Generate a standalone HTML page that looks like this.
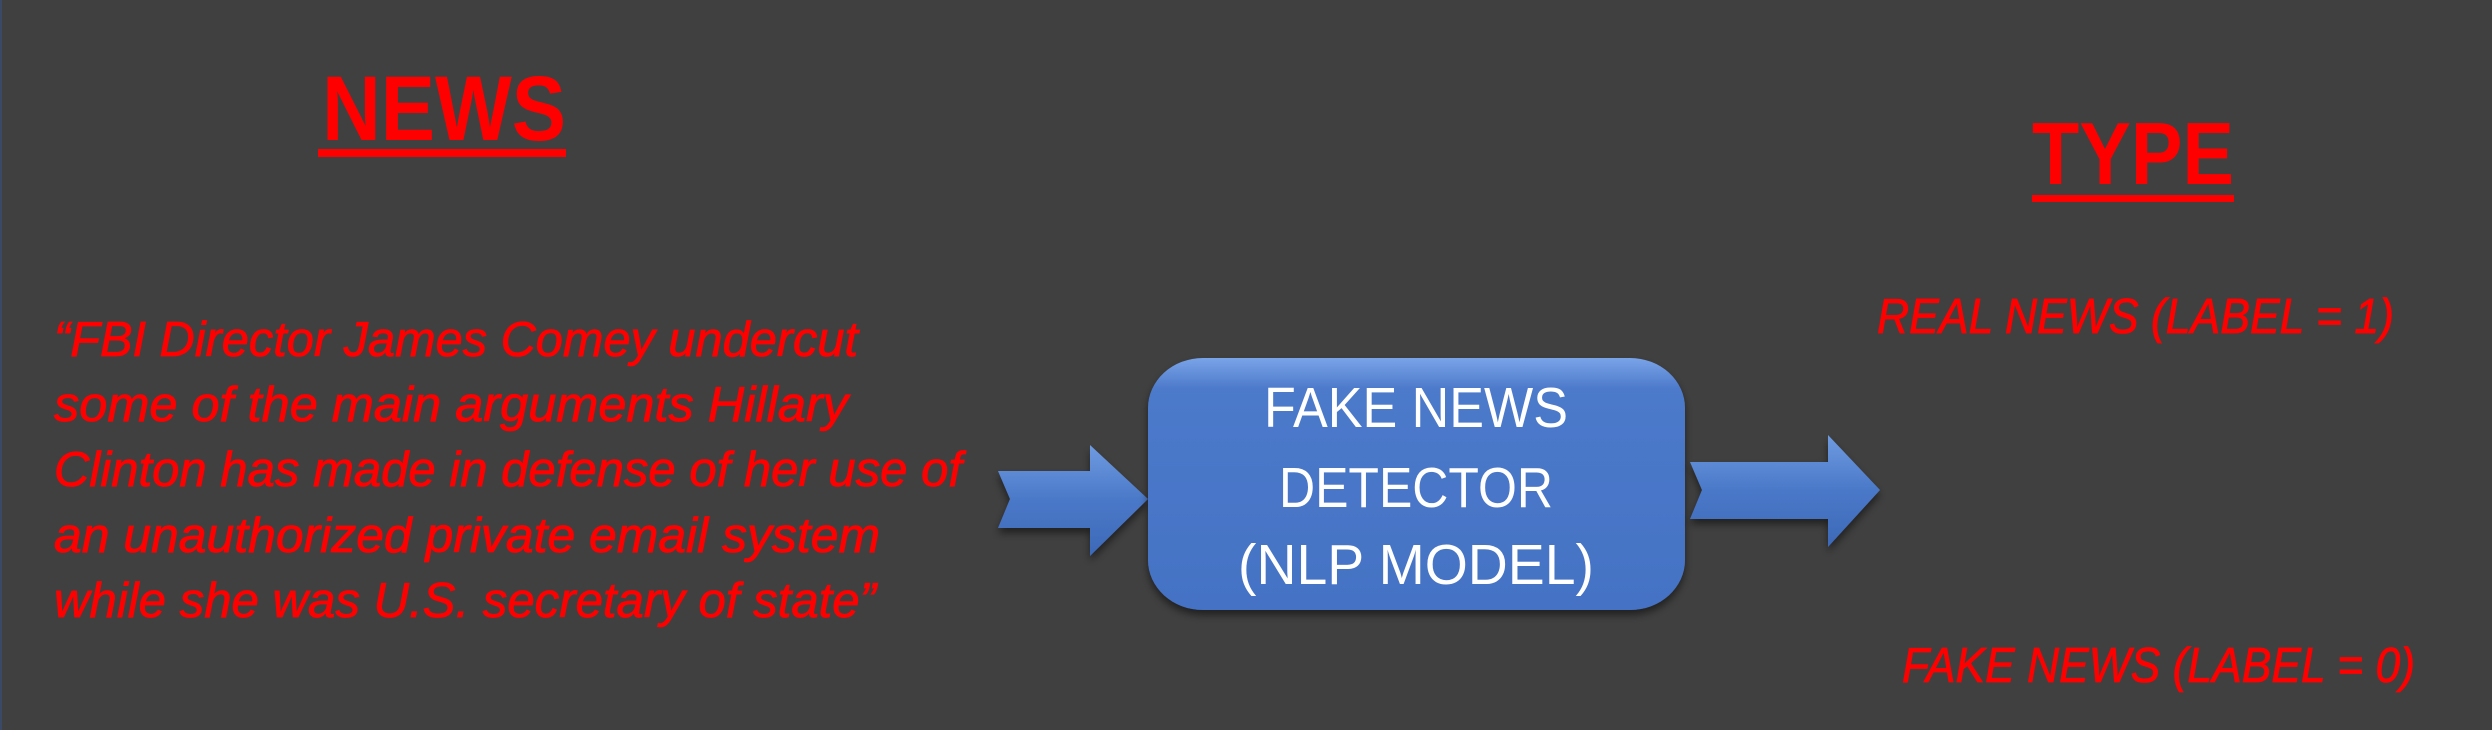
<!DOCTYPE html>
<html><head><meta charset="utf-8"><style>
html,body{margin:0;padding:0;background:#404040;}
svg{display:block;}
text{font-family:"Liberation Sans",sans-serif;}
</style></head><body>
<svg width="2492" height="730" viewBox="0 0 2492 730" xmlns="http://www.w3.org/2000/svg">
<defs>
<linearGradient id="bx" x1="0" y1="0" x2="0" y2="1">
<stop offset="0" stop-color="#7aa4e8"/><stop offset="0.12" stop-color="#4d7acb"/><stop offset="1" stop-color="#4472c4"/>
</linearGradient>
<linearGradient id="ar" x1="0" y1="0" x2="0" y2="1">
<stop offset="0" stop-color="#6f9be0"/><stop offset="0.5" stop-color="#4a78c8"/><stop offset="1" stop-color="#3d69b8"/>
</linearGradient>
<filter id="sh" x="-10%" y="-10%" width="120%" height="130%"><feDropShadow dx="0" dy="5" stdDeviation="4" flood-color="#000" flood-opacity="0.5"/></filter>
</defs>
<rect width="2492" height="730" fill="#404040"/>
<rect x="0" y="0" width="2" height="730" fill="#3a4a66"/>

<text x="322" y="140" font-size="92" font-weight="bold" fill="#ff0000" textLength="244" lengthAdjust="spacingAndGlyphs">NEWS</text>
<rect x="318" y="149" width="248" height="8" fill="#ff0000"/>

<g fill="#ff0000" font-size="49" font-style="italic" stroke="#ff0000" stroke-width="0.8">
<text x="54" y="356" textLength="804" lengthAdjust="spacingAndGlyphs">“FBI Director James Comey undercut</text>
<text x="54" y="421" textLength="794" lengthAdjust="spacingAndGlyphs">some of the main arguments Hillary</text>
<text x="54" y="486" textLength="908" lengthAdjust="spacingAndGlyphs">Clinton has made in defense of her use of</text>
<text x="54" y="552" textLength="826" lengthAdjust="spacingAndGlyphs">an unauthorized private email system</text>
<text x="54" y="617" textLength="822" lengthAdjust="spacingAndGlyphs">while she was U.S. secretary of state”</text>
</g>

<g filter="url(#sh)">
<polygon points="998,471 1090,471 1090,445 1148,499 1090,556 1090,528 998,528 1010,499" fill="url(#ar)"/>
</g>

<rect x="1148" y="358" width="537" height="252" rx="55" ry="50" fill="url(#bx)" filter="url(#sh)"/>
<g fill="#ffffff" font-size="57" text-anchor="middle">
<text x="1416" y="427" textLength="304" lengthAdjust="spacingAndGlyphs">FAKE NEWS</text>
<text x="1416" y="507" textLength="274" lengthAdjust="spacingAndGlyphs">DETECTOR</text>
<text x="1416" y="584" textLength="356" lengthAdjust="spacingAndGlyphs">(NLP MODEL)</text>
</g>

<g filter="url(#sh)">
<polygon points="1690,462 1828,462 1828,435 1880,490 1828,547 1828,519 1690,519 1702,490" fill="url(#ar)"/>
</g>

<text x="2032" y="184" font-size="88" font-weight="bold" fill="#ff0000" textLength="202" lengthAdjust="spacingAndGlyphs">TYPE</text>
<rect x="2032" y="195" width="202" height="7" fill="#ff0000"/>

<g font-size="49" font-style="italic" fill="#ff0000" stroke="#ff0000" stroke-width="0.8">
<text x="1877" y="333" textLength="517" lengthAdjust="spacingAndGlyphs">REAL NEWS (LABEL = 1)</text>
<text x="1902" y="682" textLength="513" lengthAdjust="spacingAndGlyphs">FAKE NEWS (LABEL = 0)</text>
</g>
</svg>
</body></html>
